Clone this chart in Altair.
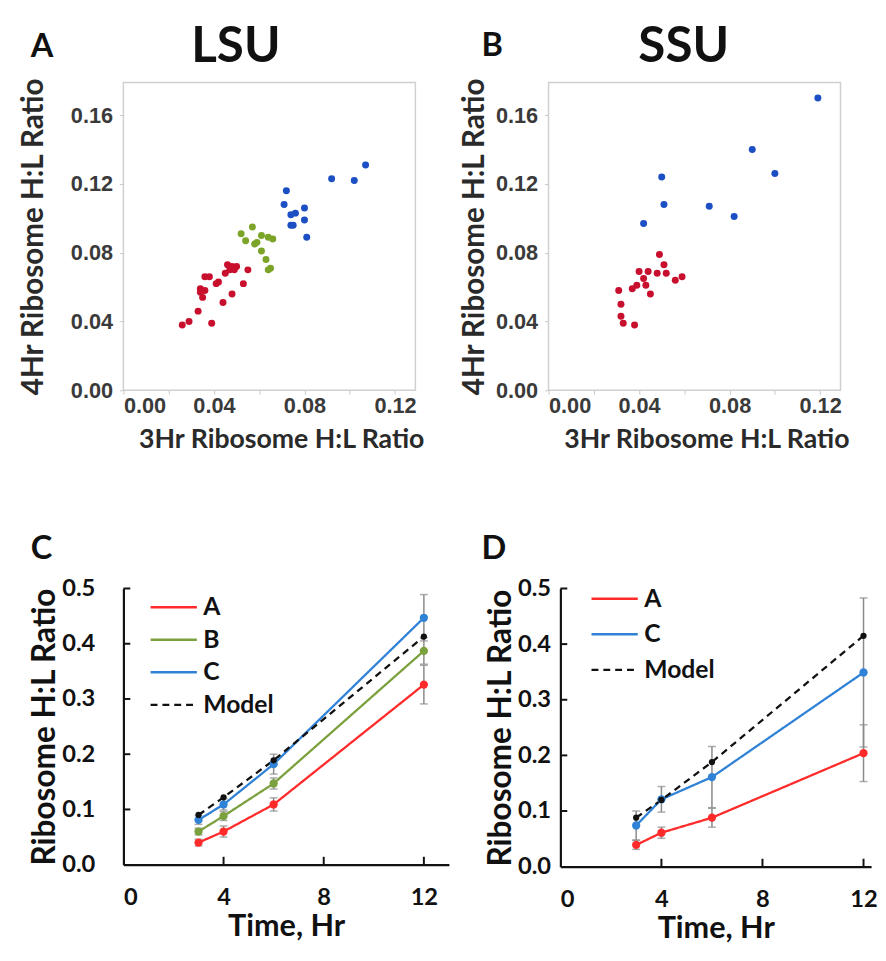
import altair as alt
import pandas as pd

# ---------------- Panel A (LSU) scatter data ----------------
lsu_x = [0.026, 0.029, 0.039, 0.033, 0.044, 0.048, 0.053, 0.035, 0.034, 0.036, 0.034, 0.036,
         0.038, 0.041, 0.042, 0.045, 0.046, 0.048, 0.050, 0.049, 0.055, 0.047,
         0.052, 0.057, 0.054, 0.059, 0.058, 0.061, 0.064, 0.066, 0.061, 0.063, 0.065, 0.064,
         0.072, 0.071, 0.080, 0.074, 0.076, 0.080, 0.075, 0.074, 0.081, 0.092, 0.102, 0.107]
lsu_y = [0.038, 0.040, 0.039, 0.046, 0.051, 0.056, 0.062, 0.054, 0.057, 0.058, 0.059, 0.066,
         0.066, 0.062, 0.063, 0.068, 0.073, 0.072, 0.072, 0.070, 0.070, 0.070,
         0.091, 0.095, 0.087, 0.086, 0.085, 0.090, 0.089, 0.088, 0.081, 0.076, 0.071, 0.070,
         0.116, 0.108, 0.106, 0.102, 0.103, 0.099, 0.096, 0.096, 0.089, 0.123, 0.122, 0.131]
lsu_grp = ["red"] * 22 + ["green"] * 12 + ["blue"] * 12

# ---------------- Panel B (SSU) scatter data ----------------
ssu_x = [0.119, 0.090, 0.100, 0.050, 0.051, 0.071, 0.082, 0.042,
         0.049, 0.051, 0.040, 0.044, 0.048, 0.052, 0.042, 0.056, 0.059, 0.039, 0.037, 0.043,
         0.045, 0.031, 0.032, 0.032, 0.033, 0.038]
ssu_y = [0.170, 0.140, 0.126, 0.124, 0.108, 0.107, 0.101, 0.097,
         0.079, 0.073, 0.069, 0.069, 0.068, 0.068, 0.065, 0.064, 0.066, 0.061, 0.059, 0.061,
         0.056, 0.058, 0.050, 0.043, 0.039, 0.038]
ssu_grp = ["blue"] * 8 + ["red"] * 18

scatter_groups = ["red", "green", "blue"]
scatter_colors = ["#C8102E", "#7BA428", "#1C4FC4"]

# ---------------- Panel C (LSU time course) ----------------
times = [3, 4, 6, 12]
c_series = ["A", "B", "C", "Model"]
c_values = {
    "A": [0.040, 0.060, 0.109, 0.326],
    "B": [0.060, 0.088, 0.147, 0.387],
    "C": [0.081, 0.109, 0.182, 0.447],
    "Model": [0.090, 0.122, 0.189, 0.413],
}
c_errors = {
    "A": [0.006, 0.010, 0.012, 0.035],
    "B": [0.006, 0.008, 0.010, 0.024],
    "C": [0.008, 0.010, 0.018, 0.042],
}
c_colors = ["#FF2A2A", "#7BA03E", "#2F82D6", "#111111"]

# ---------------- Panel D (SSU time course) ----------------
d_series = ["A", "C", "Model"]
d_values = {
    "A": [0.039, 0.061, 0.088, 0.204],
    "C": [0.074, 0.121, 0.161, 0.349],
    "Model": [0.088, 0.120, 0.188, 0.415],
}
d_errors = {
    "A": [0.008, 0.010, 0.017, 0.051],
    "C": [0.026, 0.023, 0.055, 0.134],
}
d_colors = ["#FF2A2A", "#2F82D6", "#111111"]

scatter_x_ticks = [0.0, 0.02, 0.04, 0.06, 0.08, 0.10, 0.12]
scatter_y_ticks = [0.0, 0.04, 0.08, 0.12, 0.16]
line_y_ticks = [0.0, 0.1, 0.2, 0.3, 0.4, 0.5]
line_x_ticks = [0, 4, 8, 12]

TITLE_FONT = "Lato"
TICK_FONT = "Liberation Sans"


def scatter_panel(xs, ys, grp, letter, name, letter_dx, letter_dy, name_dx, name_dy, ytpad):
    df = pd.DataFrame({"x": xs, "y": ys, "grp": grp})
    W, H = 296, 312
    pts = alt.Chart(df).mark_circle(size=50, opacity=1).encode(
        x=alt.X("x:Q", scale=alt.Scale(domain=[0, 0.129], nice=False, zero=False),
                axis=alt.Axis(values=scatter_x_ticks, title="3Hr Ribosome H:L Ratio",
                              labelExpr="(round(datum.value*100) % 4 == 0) ? format(datum.value, '.2f') : ''",
                              grid=False, domain=False, tickColor="#c8c8c8", tickSize=4,
                              labelFont=TICK_FONT, labelFontWeight="bold", labelFontSize=22,
                              labelColor="#3a3a3a", labelPadding=2, labelFlush=5,
                              titleFont=TITLE_FONT, titleFontWeight="bold", titleFontSize=27,
                              titleColor="#2a2a2a", titlePadding=10, titleX=160)),
        y=alt.Y("y:Q", scale=alt.Scale(domain=[0, 0.179], nice=False, zero=False),
                axis=alt.Axis(values=scatter_y_ticks, title="4Hr Ribosome H:L Ratio", format=".2f",
                              grid=False, domain=False, tickColor="#c8c8c8", tickSize=4,
                              labelFont=TICK_FONT, labelFontWeight="bold", labelFontSize=22,
                              labelColor="#3a3a3a", labelPadding=7,
                              titleFont=TITLE_FONT, titleFontWeight="bold", titleFontSize=30,
                              titleColor="#2a2a2a", titlePadding=ytpad)),
        color=alt.Color("grp:N", scale=alt.Scale(domain=scatter_groups, range=scatter_colors),
                        legend=None),
    )
    lab = alt.Chart(pd.DataFrame({"t": [letter]})).mark_text(
        font=TITLE_FONT, fontWeight="bold", fontSize=33, align="left", baseline="alphabetic",
        color="#111111").encode(text="t:N", x=alt.value(letter_dx), y=alt.value(letter_dy))
    ttl = alt.Chart(pd.DataFrame({"t": [name]})).mark_text(
        font=TITLE_FONT, fontWeight="bold", fontSize=50, align="center", baseline="alphabetic",
        color="#111111").encode(text="t:N", x=alt.value(name_dx), y=alt.value(name_dy))
    return alt.layer(pts, lab, ttl).properties(
        width=W, height=H, view=alt.ViewBackground(stroke="#d0d0d0", strokeWidth=1.5))


def line_panel(series, values, errors, colors, letter, xmax, W, H, letter_dx, letter_dy,
               leg_x, leg_y, leg_h, lpad, tpad):
    rows = []
    for s in series:
        for t, v in zip(times, values[s]):
            rows.append({"time": t, "value": v, "series": s})
    df = pd.DataFrame(rows)
    erows = []
    for s in errors:
        for t, v, e in zip(times, values[s], errors[s]):
            erows.append({"time": t, "lo": v - e, "hi": v + e, "series": s})
    edf = pd.DataFrame(erows)

    xs = alt.Scale(domain=[0, xmax], nice=False, zero=False)
    ys = alt.Scale(domain=[0, 0.5], nice=False)
    dash_range = [[1, 0]] * (len(series) - 1) + [[7, 5]]

    xaxis = alt.Axis(values=line_x_ticks, title="Time, Hr", grid=False, ticks=False,
                     domainColor="#111111", domainWidth=2.2,
                     labelFont=TITLE_FONT, labelFontWeight="bold", labelFontSize=24,
                     labelColor="#111111", labelPadding=21,
                     titleFont=TITLE_FONT, titleFontWeight="bold", titleFontSize=31,
                     titleColor="#111111", titlePadding=3)
    yaxis = alt.Axis(values=line_y_ticks, title="Ribosome H:L Ratio", format=".1f", grid=False,
                     ticks=False, domainColor="#111111", domainWidth=2.2,
                     labelFont=TITLE_FONT, labelFontWeight="bold", labelFontSize=24,
                     labelColor="#111111", labelPadding=lpad,
                     titleFont=TITLE_FONT, titleFontWeight="bold", titleFontSize=32,
                     titleColor="#111111", titlePadding=tpad)

    def leg():
        return alt.Legend(title=None, orient="none", legendX=leg_x, legendY=leg_y,
                          symbolType="stroke", symbolSize=2200, clipHeight=leg_h,
                          symbolStrokeWidth=2.5, labelFont=TITLE_FONT,
                          labelFontWeight="bold", labelFontSize=25,
                          labelColor="#111111", rowPadding=3, labelOffset=5)

    color = alt.Color("series:N", scale=alt.Scale(domain=series, range=colors), legend=leg())
    dash = alt.StrokeDash("series:N", scale=alt.Scale(domain=series, range=dash_range),
                          legend=leg())

    base = alt.Chart(df)
    lines = base.mark_line(strokeWidth=2.3).encode(
        x=alt.X("time:Q", scale=xs, axis=xaxis),
        y=alt.Y("value:Q", scale=ys, axis=yaxis),
        color=color, strokeDash=dash, order=alt.Order("time:Q"))
    pts = base.mark_circle(opacity=1).encode(
        x="time:Q", y="value:Q",
        color=alt.Color("series:N", scale=alt.Scale(domain=series, range=colors), legend=None),
        size=alt.condition(alt.datum.series == "Model", alt.value(40), alt.value(70)))
    eb = alt.Chart(edf).mark_rule(color="#8a8a8a", strokeWidth=1.5).encode(
        x="time:Q", y="lo:Q", y2="hi:Q")
    cap_lo = alt.Chart(edf).mark_tick(color="#8a8a8a", thickness=1.5, size=8,
                                      orient="horizontal").encode(x="time:Q", y="lo:Q")
    cap_hi = alt.Chart(edf).mark_tick(color="#8a8a8a", thickness=1.5, size=8,
                                      orient="horizontal").encode(x="time:Q", y="hi:Q")
    ytk = alt.Chart(pd.DataFrame({"v": line_y_ticks[1:]})).mark_rule(
        color="#111111", strokeWidth=2).encode(y=alt.Y("v:Q", scale=ys), x=alt.value(0),
                                              x2=alt.value(7))
    xtk = alt.Chart(pd.DataFrame({"v": line_x_ticks[1:]})).mark_rule(
        color="#111111", strokeWidth=2).encode(x=alt.X("v:Q", scale=xs), y=alt.value(H),
                                              y2=alt.value(H - 8))
    lab = alt.Chart(pd.DataFrame({"t": [letter]})).mark_text(
        font=TITLE_FONT, fontWeight="bold", fontSize=33, align="left", baseline="alphabetic",
        color="#111111").encode(text="t:N", x=alt.value(letter_dx), y=alt.value(letter_dy))
    return alt.layer(eb, cap_lo, cap_hi, lines, pts, ytk, xtk, lab).properties(
        width=W, height=H).resolve_scale(color="shared", strokeDash="shared")


panel_a = scatter_panel(lsu_x, lsu_y, lsu_grp, "A", "LSU", -94, -26, 114, -21, 22)
panel_b = scatter_panel(ssu_x, ssu_y, ssu_grp, "B", "SSU", -68, -27, 137, -21, 6)
panel_c = line_panel(c_series, c_values, c_errors, c_colors, "C", 13, 330, 280, -94, -30,
                     26, 4, 30, 29, 0)
panel_d = line_panel(d_series, d_values, d_errors, d_colors, "D", 12.3, 315, 282, -80, -30,
                     30, -6, 33, 10, 0)

top = alt.hconcat(panel_a, panel_b, spacing=135, bounds="flush")
bottom = alt.hconcat(panel_c, panel_d, spacing=113, bounds="flush").resolve_scale(
    color="independent", strokeDash="independent").resolve_legend(
    color="independent", strokeDash="independent")

chart = alt.vconcat(top, bottom, spacing=513, bounds="flush").resolve_scale(
    color="independent", strokeDash="independent").configure_view(strokeWidth=0).properties(
    padding={"left": 10, "top": 7, "right": 0, "bottom": 0}, background="white")

chart.save("out.html", embed_options={"renderer": "svg", "actions": False})
